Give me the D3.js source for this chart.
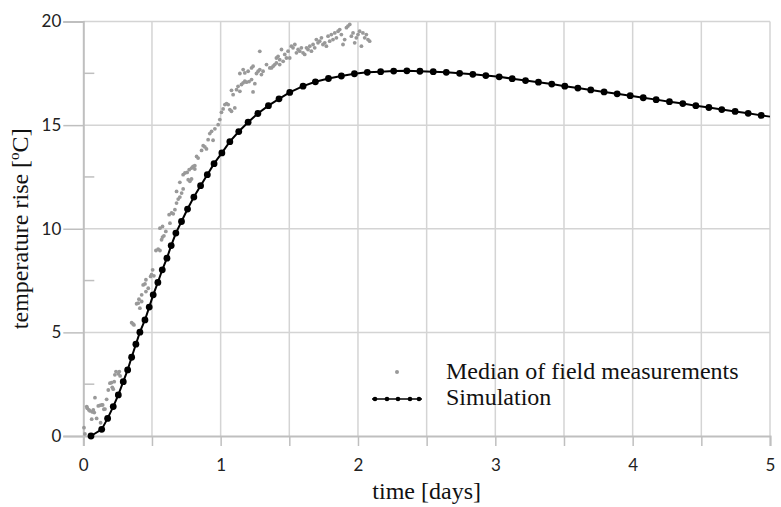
<!DOCTYPE html>
<html>
<head>
<script src="https://d3js.org/d3.v7.min.js"></script>
<style>
  body { margin: 0; background: #fff; }
  .tick text { font-family: Lato, "Open Sans", sans-serif; font-size: 17px; fill: #222; }
  .title { font-family: "Liberation Serif", "Times New Roman", serif; font-size: 24px; fill: #111; }
</style>
</head>
<body>
<div id="chart"></div>
<script>
// simulation: time [days] and temperature rise [°C]
const simT = [0.056,0.134,0.177,0.218,0.255,0.291,0.323,0.352,0.383,0.412,0.449,0.48,0.509,0.543,0.575,0.609,0.64,0.674,0.715,0.759,
  0.805,0.854,0.903,0.952,1.009,1.067,1.132,1.2,1.271,1.348,1.425,1.503,1.6,1.69,1.785,1.879,1.974,2.068,2.165,2.26,
  2.356,2.451,2.548,2.643,2.74,2.836,2.931,3.028,3.123,3.22,3.314,3.411,3.506,3.601,3.695,3.792,3.887,3.982,4.077,4.171,
  4.268,4.365,4.46,4.555,4.649,4.746,4.841,4.936];
const simV = [0,0.32,0.85,1.42,1.98,2.62,3.19,3.80,4.43,5.01,5.60,6.22,6.81,7.41,8.02,8.58,9.19,9.79,10.35,10.95,
  11.53,12.08,12.61,13.14,13.66,14.20,14.69,15.14,15.56,15.94,16.27,16.58,16.88,17.09,17.25,17.37,17.48,17.55,17.58,17.61,
  17.62,17.6,17.58,17.55,17.5,17.45,17.39,17.33,17.24,17.15,17.07,16.98,16.88,16.79,16.70,16.60,16.51,16.42,16.32,16.23,
  16.13,16.04,15.94,15.85,15.75,15.66,15.57,15.47];
const simEnd = [5, 15.41]; // line runs on to the axis end, no marker

// median of field measurements [t, v]
const field = [
  [0.005,0.40],[0.012,0.10],[0.025,1.42],[0.029,1.34],[0.041,1.26],[0.049,1.21],[0.061,0.81],[0.066,1.16],[0.073,1.26],[0.08,1.13],
  [0.085,1.85],[0.097,0.85],[0.109,1.45],[0.121,1.48],[0.126,0.64],[0.134,1.50],[0.141,1.50],[0.15,1.29],[0.158,1.30],[0.17,0.85],
  [0.17,1.77],[0.182,2.22],[0.194,2.55],[0.206,2.58],[0.211,2.35],[0.218,2.26],[0.225,2.62],[0.23,2.95],[0.238,3.11],[0.255,3.0],
  [0.262,3.11],[0.268,2.9],
  [0.352,5.47],[0.362,5.41],[0.369,5.36],[0.388,6.38],[0.4,6.41],[0.405,6.60],[0.412,6.17],[0.425,6.49],[0.425,6.81],[0.436,7.29],
  [0.449,7.34],[0.456,7.54],[0.456,6.97],[0.473,7.13],[0.49,7.70],[0.497,7.78],[0.505,8.02],[0.514,7.73],[0.529,8.95],[0.545,9.02],
  [0.558,8.95],[0.558,10.03],[0.57,9.47],[0.577,9.60],[0.577,10.11],[0.587,9.66],[0.601,9.87],[0.625,10.68],[0.631,10.27],[0.643,10.76],
  [0.655,10.72],[0.667,10.92],[0.679,11.24],[0.679,11.80],[0.691,11.43],[0.703,11.53],[0.703,12.24],[0.716,11.72],[0.727,11.92],[0.727,12.61],
  [0.74,12.69],[0.756,12.72],[0.764,12.37],[0.771,12.85],[0.776,12.29],[0.788,12.93],[0.788,12.40],[0.8,13.01],[0.8,12.98],[0.812,12.88],
  [0.812,13.04],[0.825,13.49],[0.836,13.41],[0.861,13.78],[0.873,14.01],[0.885,13.95],[0.897,13.85],[0.909,14.3],[0.921,14.59],[0.934,14.7],
  [0.945,14.27],[0.958,14.82],[0.982,15.02],[0.994,15.27],[1.006,15.62],[1.018,15.78],[1.031,15.99],[1.043,16.04],[1.055,15.99],[1.067,15.75],
  [1.079,15.67],[1.079,16.68],[1.091,16.47],[1.103,15.83],[1.116,16.71],[1.127,16.87],[1.14,16.63],[1.14,17.49],[1.152,16.96],[1.164,17.04],
  [1.164,17.68],[1.176,17.12],[1.176,17.52],[1.188,17.07],[1.2,17.6],[1.207,17.10],[1.225,17.2],[1.225,17.76],[1.236,16.6],[1.236,17.84],
  [1.249,17.0],[1.261,17.49],[1.273,17.6],[1.285,17.68],[1.285,18.56],[1.297,17.44],[1.309,17.6],[1.334,17.92],[1.358,17.76],[1.37,17.76],
  [1.382,17.84],[1.394,17.92],[1.406,18.0],[1.406,18.24],[1.418,18.32],[1.43,17.92],[1.43,18.16],[1.443,18.65],[1.455,18.08],[1.467,18.41],
  [1.479,18.24],[1.491,18.57],[1.503,18.24],[1.515,18.81],[1.527,18.73],[1.54,18.89],[1.552,18.49],[1.564,18.65],[1.576,18.57],[1.588,18.73],
  [1.6,18.49],[1.612,18.41],[1.625,18.73],[1.636,18.65],[1.649,18.81],[1.661,18.57],[1.673,18.89],[1.685,18.73],[1.697,19.13],[1.709,18.97],
  [1.721,19.05],[1.734,19.21],[1.745,18.89],[1.758,18.97],[1.77,18.81],[1.782,19.29],[1.794,19.05],[1.806,19.37],[1.818,19.13],[1.831,19.45],
  [1.843,19.21],[1.855,19.53],[1.867,19.61],[1.879,19.37],[1.891,18.89],[1.903,19.13],[1.916,19.7],[1.927,19.78],[1.94,19.86],[1.952,19.29],
  [1.964,19.45],[1.976,18.97],[1.988,19.21],[2.0,19.37],[2.012,19.53],[2.025,18.81],[2.036,19.45],[2.049,19.21],[2.061,19.37],[2.073,19.13],
  [2.085,19.05]
];

const xTicks = [0, 0.5, 1, 1.5, 2, 2.5, 3, 3.5, 4, 4.5, 5];
const yTicks = [0, 5, 10, 15, 20];
const yMinor = [2.5, 7.5, 12.5, 17.5];
const legendLabels = ["Median of field measurements", "Simulation"];

const width = 781, height = 507;
const svg = d3.select("#chart").append("svg")
  .attr("width", width).attr("height", height);

const x = d3.scaleLinear().domain([0, 5]).range([83.3, 770]);
const y = d3.scaleLinear().domain([0, 20]).range([436, 21.5]);

// grid
svg.append("g").selectAll("line").data(xTicks.filter(d => d > 0)).enter().append("line")
  .attr("x1", d => x(d)).attr("x2", d => x(d))
  .attr("y1", y(20)).attr("y2", y(0))
  .attr("stroke", "#d4d4d4").attr("stroke-width", 1.5);
svg.append("g").selectAll("line").data(yTicks.filter(d => d > 0)).enter().append("line")
  .attr("x1", x(0)).attr("x2", x(5))
  .attr("y1", d => y(d)).attr("y2", d => y(d))
  .attr("stroke", "#d4d4d4").attr("stroke-width", 1.5);

// axes
const xAxis = svg.append("g").attr("transform", `translate(0,${y(0)})`)
  .call(d3.axisBottom(x).tickValues(xTicks).tickSize(10).tickPadding(13)
    .tickFormat(d => Number.isInteger(d) ? d : ""));
const yAxis = svg.append("g").attr("transform", `translate(${x(0)},0)`)
  .call(d3.axisLeft(y).tickValues(yTicks).tickSize(20).tickPadding(2));
[xAxis, yAxis].forEach(g => {
  g.select(".domain").attr("stroke", "#bfbfbf").attr("stroke-width", 2);
  g.selectAll(".tick line").attr("stroke", "#bfbfbf").attr("stroke-width", 1.5);
});
svg.append("g").selectAll("line").data(yMinor).enter().append("line")
  .attr("x1", x(0)).attr("x2", x(0) + 11)
  .attr("y1", d => y(d)).attr("y2", d => y(d))
  .attr("stroke", "#bfbfbf").attr("stroke-width", 1.5);

// field measurements
svg.append("g").selectAll("circle").data(field).enter().append("circle")
  .attr("cx", d => x(d[0])).attr("cy", d => y(d[1])).attr("r", 1.9)
  .attr("fill", "#999");

// simulation
const sim = simT.map((t, i) => [t, simV[i]]);
svg.append("path")
  .datum(sim.concat([simEnd]))
  .attr("fill", "none").attr("stroke", "#000").attr("stroke-width", 2)
  .attr("d", d3.line().x(d => x(d[0])).y(d => y(d[1])));
svg.append("g").selectAll("circle").data(sim).enter().append("circle")
  .attr("cx", d => x(d[0])).attr("cy", d => y(d[1])).attr("r", 3.4)
  .attr("fill", "#000");

// titles
svg.append("text").attr("class", "title")
  .attr("x", x(2.5)).attr("y", 499).attr("text-anchor", "middle")
  .text("time [days]");
const yt = svg.append("text").attr("class", "title")
  .attr("transform", `translate(28,${(y(0) + y(20)) / 2}) rotate(-90)`)
  .attr("text-anchor", "middle");
yt.append("tspan").text("temperature rise [");
yt.append("tspan").attr("font-size", 15).attr("dy", -9).text("o");
yt.append("tspan").attr("dy", 9).text("C]");

// legend
const lg = svg.append("g");
lg.append("circle").attr("cx", 397).attr("cy", 372).attr("r", 2).attr("fill", "#999");
lg.append("line").attr("x1", 372).attr("x2", 422).attr("y1", 399).attr("y2", 399)
  .attr("stroke", "#000").attr("stroke-width", 1.5);
lg.selectAll(".ld").data([375, 387, 398, 410, 419]).enter().append("circle")
  .attr("cx", d => d).attr("cy", 399).attr("r", 2.3).attr("fill", "#000");
lg.selectAll("text").data(legendLabels).enter().append("text")
  .attr("class", "title")
  .attr("x", 446).attr("y", (d, i) => 379 + i * 26)
  .text(d => d);
</script>
</body>
</html>
